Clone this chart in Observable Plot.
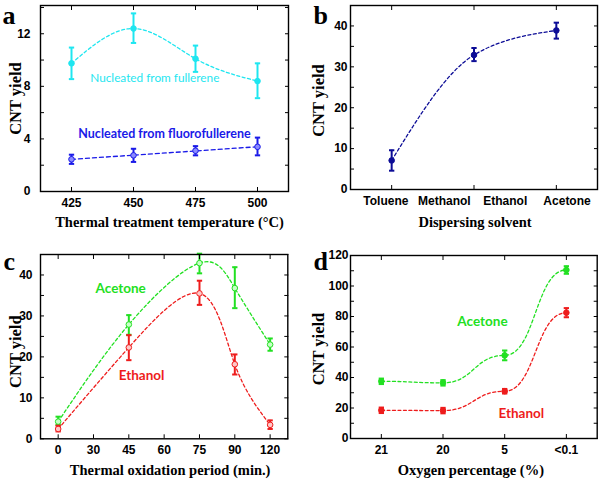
<!DOCTYPE html>
<html><head><meta charset="utf-8">
<script src="https://cdn.jsdelivr.net/npm/d3@7"></script>
<script src="https://cdn.jsdelivr.net/npm/@observablehq/plot@0.6"></script>
<style>
body{margin:0;background:#fff;}
#fig{position:relative;width:600px;height:479px;overflow:hidden;}
#fig > svg{position:absolute;}
</style></head><body><div id="fig"></div>
<script>
// ---------- Panel a ----------
const tempC = [425, 450, 475, 500];
const fullereneYield = [9.75, 12.4, 10.1, 8.4];
const fullereneLo = [8.55, 11.3, 9.1, 7.1];
const fullereneHi = [10.95, 13.55, 11.1, 9.75];
const fluoroYield = [2.45, 2.75, 3.1, 3.4];
const fluoroLo = [2.1, 2.25, 2.75, 2.75];
const fluoroHi = [2.8, 3.25, 3.45, 4.1];
const tempTicks = [425, 450, 475, 500];
const yTicksA = [0, 2, 4, 6, 8, 10, 12, 14];
const yLabelsA = [0, 4, 8, 12];
const labelsA = ["Nucleated from fullerene", "Nucleated from fluorofullerene"];
const labelAtA = [[458.6, 8.6], [462.5, 4.4]];

// ---------- Panel b ----------
const solventNames = ["Toluene", "Methanol", "Ethanol", "Acetone"];
const solventNamePos = [0.93, 1.64, 2.38, 3.13];
const solventPointPos = [1, 2, 3];
const solventYield = [7.1, 32.9, 38.9];
const solventLo = [4.6, 31.4, 36.9];
const solventHi = [9.6, 34.6, 40.8];
const yTicksB = [0, 5, 10, 15, 20, 25, 30, 35, 40, 45];
const yLabelsB = [0, 10, 20, 30, 40];

// ---------- Panel c ----------
const oxidationTicks = ["0", "30", "45", "60", "75", "90", "120"];
const oxidationMinutes = ["0", "45", "75", "90", "120"];
const acetoneC = [4.2, 27.9, 42.9, 36.8, 23.0];
const acetoneCLo = [3.4, 25.4, 40.4, 31.9, 21.5];
const acetoneCHi = [5.4, 30.2, 45.2, 41.9, 24.5];
const ethanolC = [2.4, 22.3, 35.5, 18.2, 3.4];
const ethanolCLo = [1.8, 19.2, 32.7, 15.7, 2.4];
const ethanolCHi = [3.2, 25.3, 38.6, 20.6, 4.5];
const yTicksC = [0, 5, 10, 15, 20, 25, 30, 35, 40, 45];
const yLabelsC = [0, 10, 20, 30, 40];
const labelsC = ["Acetone", "Ethanol"];
const labelAtC = [[1.77, 36.6], [2.36, 15.3]];

// ---------- Panel d ----------
const oxygenTicks = ["21", "20", "5", "<0.1"];
const acetoneD = [37.5, 36.5, 54.5, 110.5];
const acetoneDErr = [1.8, 1.8, 3.2, 2.5];
const ethanolD = [18.5, 18.3, 31.0, 82.5];
const ethanolDErr = [1.8, 1.8, 1.5, 3.0];
const yTicksD = [0, 10, 20, 30, 40, 50, 60, 70, 80, 90, 100, 110, 120];
const yLabelsD = [0, 20, 40, 60, 80, 100, 120];
const labelsD = ["Acetone", "Ethanol"];
const labelAtD = [[1.64, 76.6], [2.27, 16.4]];

// ---------- colours ----------
const CYAN = "#1ee6f0", BLUE = "#1a1ae8", NAVY = "#0c0c96", GREEN = "#22e022", RED = "#ee1c1c";

const sans = "'Liberation Sans', Arial, sans-serif";
const serif = "'Liberation Serif', 'Times New Roman', serif";
const calib = "Lato, 'Open Sans', sans-serif";

const cap = {draw(ctx, size) { const w = Math.sqrt(size) / 2; ctx.moveTo(-w, 0); ctx.lineTo(w, 0); }};

function series(xs, ys, lo, hi) {
  return xs.map((x, i) => ({x, y: ys[i], lo: lo[i], hi: hi[i]}));
}
function errMarks(data, color, dotOpts = {}) {
  return [
    Plot.ruleX(data, {x: "x", y1: "lo", y2: "hi", stroke: color, strokeWidth: 2}),
    Plot.dot(data, {x: "x", y: "lo", symbol: cap, r: 3, stroke: color, strokeWidth: 2, fill: "none"}),
    Plot.dot(data, {x: "x", y: "hi", symbol: cap, r: 3, stroke: color, strokeWidth: 2, fill: "none"}),
    Plot.dot(data, {x: "x", y: "y", r: 2.8, fill: color, stroke: color, strokeWidth: 1, ...dotOpts})
  ];
}
function frameAxes({xTicks, xFormat, yTicks, yLabels, yPad}) {
  return [
    Plot.axisX({ticks: xTicks, tickFormat: xFormat, tickSize: -4, tickPadding: 11, fontSize: 12, fontWeight: "bold", fontFamily: sans, label: null}),
    Plot.axisX({anchor: "top", ticks: xTicks, tickFormat: () => "", tickSize: -4, label: null}),
    Plot.axisY({ticks: yTicks, tickFormat: d => yLabels.includes(d) ? d : "", tickSize: -4, tickPadding: yPad, fontSize: 12, fontWeight: "bold", fontFamily: sans, label: null}),
    Plot.axisY({anchor: "right", ticks: yTicks, tickFormat: () => "", tickSize: -4, label: null}),
    Plot.frame({stroke: "black", strokeWidth: 1.4})
  ];
}
function titles(letter, xTitle, yTitle, o) {
  return [
    Plot.text([letter], {frameAnchor: "top-left", text: d => d, dx: o.lx, dy: o.ly, textAnchor: "start", lineAnchor: "bottom", fontSize: 26, fontWeight: "bold", fontFamily: serif, fill: "black"}),
    Plot.text([xTitle], {frameAnchor: "bottom", text: d => d, dx: o.xdx, dy: o.xdy, textAnchor: "middle", lineAnchor: "middle", fontSize: 14.5, fontWeight: "bold", fontFamily: serif, fill: "black"}),
    Plot.text([yTitle], {frameAnchor: "left", text: d => d, dx: o.ydx, dy: o.ydy, rotate: -90, textAnchor: "middle", lineAnchor: "middle", fontSize: 16.5, fontWeight: "bold", fontFamily: serif, fill: "black"})
  ];
}
function place(svg, left, top) {
  svg.style.left = left + "px"; svg.style.top = top + "px";
  document.getElementById("fig").appendChild(svg);
}

// ---------- build a ----------
const fullData = series(tempC, fullereneYield, fullereneLo, fullereneHi);
const fluoData = series(tempC, fluoroYield, fluoroLo, fluoroHi);
const pa = Plot.plot({
  width: 300, height: 240,
  marginLeft: 40, marginRight: 12, marginTop: 5, marginBottom: 49,
  x: {domain: [412.5, 512.5]},
  y: {domain: [0, 14.15]},
  marks: [
    Plot.line(fullData, {x: "x", y: "y", curve: "natural", stroke: CYAN, strokeWidth: 1.3, strokeDasharray: "3,2.5"}),
    Plot.linearRegressionY(fluoData, {x: "x", y: "y", ci: 0, stroke: BLUE, strokeWidth: 1.3, strokeDasharray: "4,3"}),
    ...errMarks(fullData, CYAN),
    ...errMarks(fluoData, BLUE, {fill: "#8a8aff"}),
    Plot.text([0], {x: () => labelAtA[0][0], y: () => labelAtA[0][1], text: () => labelsA[0], fill: CYAN, fontSize: 11.8, fontFamily: calib}),
    Plot.text([0], {x: () => labelAtA[1][0], y: () => labelAtA[1][1], text: () => labelsA[1], fill: BLUE, fontSize: 12.5, fontWeight: "bold", fontFamily: calib}),
    ...frameAxes({xTicks: tempTicks, xFormat: d => d, yTicks: yTicksA, yLabels: yLabelsA, yPad: 14}),
    ...titles("a", "Thermal treatment temperature (°C)", "CNT yield", {lx: -38, ly: 18, xdx: 5, xdy: 31, ydx: -25, ydy: 0})
  ]
});
place(pa, 0, 0);

// ---------- build b ----------
const solData = series(solventPointPos, solventYield, solventLo, solventHi);
const pb = Plot.plot({
  width: 300, height: 240,
  marginLeft: 50, marginRight: 3, marginTop: 5, marginBottom: 51,
  x: {domain: [0.5, 3.5]},
  y: {domain: [0, 45]},
  marks: [
    Plot.line(solData, {x: "x", y: "y", curve: "monotone-x", stroke: NAVY, strokeWidth: 1.3, strokeDasharray: "3,2.5"}),
    ...errMarks(solData, NAVY),
    ...frameAxes({xTicks: solventPointPos, xFormat: () => "", yTicks: yTicksB, yLabels: yLabelsB, yPad: 7}),
    Plot.axisX({ticks: solventNamePos, tickFormat: (d, i) => solventNames[i], tickSize: 0, tickPadding: 7, fontSize: 12, fontWeight: "bold", fontFamily: sans, label: null}),
    ...titles("b", "Dispersing solvent", "CNT yield", {lx: -37, ly: 18, xdx: 1, xdy: 33, ydx: -32, ydy: 3})
  ]
});
place(pb, 300, 0);

// ---------- build c ----------
const idxC = oxidationMinutes.map(m => oxidationTicks.indexOf(m));
const aceC = series(idxC, acetoneC, acetoneCLo, acetoneCHi);
const ethC = series(idxC, ethanolC, ethanolCLo, ethanolCHi);
const pc = Plot.plot({
  width: 300, height: 239,
  marginLeft: 40, marginRight: 12.7, marginTop: 14, marginBottom: 40.7,
  x: {domain: [-0.5, 6.5]},
  y: {domain: [0, 45]},
  marks: [
    Plot.line(aceC, {x: "x", y: "y", curve: "natural", stroke: GREEN, strokeWidth: 1.3, strokeDasharray: "3,2.5"}),
    Plot.line(ethC, {x: "x", y: "y", curve: "natural", stroke: RED, strokeWidth: 1.3, strokeDasharray: "3,2.5"}),
    ...errMarks(aceC, GREEN, {fill: "#c8ffc8"}),
    ...errMarks(ethC, RED, {fill: "#ffc8c8"}),
    Plot.text([0], {x: () => labelAtC[0][0], y: () => labelAtC[0][1], text: () => labelsC[0], fill: GREEN, fontSize: 13.5, fontWeight: "bold", fontFamily: calib}),
    Plot.text([0], {x: () => labelAtC[1][0], y: () => labelAtC[1][1], text: () => labelsC[1], fill: RED, fontSize: 13.5, fontWeight: "bold", fontFamily: calib}),
    ...frameAxes({xTicks: d3.range(oxidationTicks.length), xFormat: i => oxidationTicks[i], yTicks: yTicksC, yLabels: yLabelsC, yPad: 12}),
    ...titles("c", "Thermal oxidation period (min.)", "CNT yield", {lx: -37, ly: 15, xdx: 6, xdy: 32, ydx: -25, ydy: 5})
  ]
});
place(pc, 0, 240);

// ---------- build d ----------
const idxD = oxygenTicks.map((t, i) => i);
const aceD = series(idxD, acetoneD, acetoneD.map((v, i) => v - acetoneDErr[i]), acetoneD.map((v, i) => v + acetoneDErr[i]));
const ethD = series(idxD, ethanolD, ethanolD.map((v, i) => v - ethanolDErr[i]), ethanolD.map((v, i) => v + ethanolDErr[i]));
const pd = Plot.plot({
  width: 300, height: 239,
  marginLeft: 50, marginRight: 3.3, marginTop: 15, marginBottom: 41,
  x: {domain: [-0.5, 3.5]},
  y: {domain: [0, 120]},
  marks: [
    Plot.line(aceD, {x: "x", y: "y", curve: "bump-x", stroke: GREEN, strokeWidth: 1.3, strokeDasharray: "3,2.5"}),
    Plot.line(ethD, {x: "x", y: "y", curve: "bump-x", stroke: RED, strokeWidth: 1.3, strokeDasharray: "3,2.5"}),
    ...errMarks(aceD, GREEN),
    ...errMarks(ethD, RED),
    Plot.text([0], {x: () => labelAtD[0][0], y: () => labelAtD[0][1], text: () => labelsD[0], fill: GREEN, fontSize: 13.5, fontWeight: "bold", fontFamily: calib}),
    Plot.text([0], {x: () => labelAtD[1][0], y: () => labelAtD[1][1], text: () => labelsD[1], fill: RED, fontSize: 13.5, fontWeight: "bold", fontFamily: calib}),
    ...frameAxes({xTicks: idxD, xFormat: i => oxygenTicks[i], yTicks: yTicksD, yLabels: yLabelsD, yPad: 6}),
    ...titles("d", "Oxygen percentage (%)", "CNT yield", {lx: -37, ly: 14, xdx: -3, xdy: 32, ydx: -32, ydy: 2})
  ]
});
place(pd, 300, 240);
</script></body></html>
